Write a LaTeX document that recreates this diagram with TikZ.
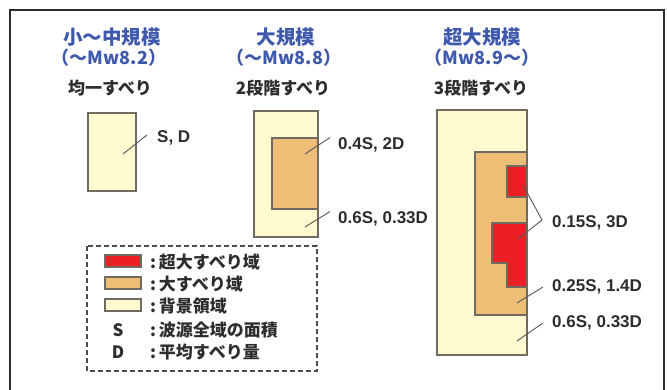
\documentclass[tikz,border=0pt]{standalone}
\usepackage{fontspec}
\setmainfont{Liberation Sans}
\newfontfamily\jpfont{Noto Sans CJK JP}
\usepackage{xcolor}
\usetikzlibrary{positioning}

\definecolor{bgyellow}{RGB}{255,250,208}
\definecolor{bigorange}{RGB}{238,190,118}
\definecolor{hugered}{RGB}{236,32,36}
\definecolor{titleblue}{RGB}{62,88,172}
\definecolor{edgegray}{RGB}{112,106,96}
\definecolor{inkgray}{RGB}{45,45,45}

\tikzset{
	zone/.style={draw=edgegray, line width=1.1pt},
	leader/.style={draw=inkgray!80, line width=0.9pt},
	title/.style={font=\jpfont\bfseries\fontsize{19.5}{21}\selectfont, text=titleblue, inner sep=0pt},
	magnitude/.style={font=\jpfont\bfseries\fontsize{18}{20}\selectfont, text=titleblue, inner sep=0pt},
	subtitle/.style={font=\jpfont\bfseries\fontsize{17}{19}\selectfont, text=inkgray, inner sep=0pt},
	value/.style={font=\bfseries\fontsize{17}{19}\selectfont, text=inkgray, inner sep=0pt, anchor=west},
	legtext/.style={font=\jpfont\bfseries\fontsize{17}{19}\selectfont, text=inkgray, inner sep=0pt, anchor=west},
	swatch/.style={zone, minimum width=36pt, minimum height=12pt, inner sep=0pt}
}

\begin{document}
\begin{tikzpicture}[x=1pt, y=-1pt]
		
		\useasboundingbox (0,0) rectangle (667,390);
		\draw[inkgray, line width=1.5pt] (10,392) -- (10,10) -- (664,10) -- (664,392);
		
		% column titles
		\node[title] (smallT) at (112,37) {小～中規模};
		\node[magnitude] (smallM) at (109,58) {（～Mw8.2）};
		\node[subtitle] (smallS) at (110,88) {均一すべり};
		
		\node[title] (largeT) at (286,37) {大規模};
		\node[magnitude] (largeM) at (284,58) {（～Mw8.8）};
		\node[subtitle] (largeS) at (283,88) {2段階すべり};
		
		\node[title] (hugeT) at (482,37) {超大規模};
		\node[magnitude] (hugeM) at (482,58) {（Mw8.9～）};
		\node[subtitle] (hugeS) at (481,88) {3段階すべり};
		
		% uniform slip
		\fill[bgyellow, zone] (88,113) rectangle (136,191);
		\coordinate (uniP) at (123,154);
		\node[value] (uniL) at (157,138) {S, D};
		\draw[leader] (uniP) -- ([shift={(-10pt,3pt)}]uniL.west);
		
		% two-step slip
		\fill[bgyellow, zone] (254,111) rectangle (318,237);
		\fill[bigorange, zone] (272,138) rectangle (318,209);
		\coordinate (twoBigP) at (305,154);
		\coordinate (twoBgP) at (305,227);
		\node[value] (twoBigL) at (338,145) {0.4S, 2D};
		\node[value] (twoBgL) at (338,219) {0.6S, 0.33D};
		\draw[leader] (twoBigP) -- ([xshift=-8pt]twoBigL.north west);
		\draw[leader] (twoBgP) -- ([xshift=-8pt]twoBgL.north west);
		
		% three-step slip
		\fill[bgyellow, zone] (437,110) rectangle (527,355);
		\fill[bigorange, zone] (475,152) rectangle (527,315);
		\fill[hugered, zone] (507,166) rectangle (527,197);
		\fill[hugered, zone] (492,223) -- (527,223) -- (527,287) -- (507,287) -- (507,263) -- (492,263) -- cycle;
		\coordinate (hugeTopP) at (523,185);
		\coordinate (hugeLowP) at (518,239);
		\coordinate (threeBigP) at (517,303);
		\coordinate (threeBgP) at (517,341);
		\node[value] (hugeL) at (552,223) {0.15S, 3D};
		\node[value] (threeBigL) at (552,287) {0.25S, 1.4D};
		\node[value] (threeBgL) at (552,323) {0.6S, 0.33D};
		\draw[leader] (hugeTopP) -- ([shift={(-10pt,3pt)}]hugeL.west) -- (hugeLowP);
		\draw[leader] (threeBigP) -- ([xshift=-9pt]threeBigL.west);
		\draw[leader] (threeBgP) -- ([xshift=-9pt]threeBgL.west);
		
		% legend
		\draw[inkgray!85, line width=1.1pt, dash pattern=on 5pt off 3pt] (87,246) rectangle (317,371);
		\node[swatch, fill=hugered] (legRed) at (123,261) {};
		\node[swatch, fill=bigorange] (legOrange) at (123,283) {};
		\node[swatch, fill=bgyellow] (legYellow) at (123,305) {};
		\node[legtext, anchor=center] (legS) at (118,330) {S};
		\node[legtext, anchor=center] (legD) at (118,352) {D};
		\node[legtext] (legRedT) at (150,262) {:\,超大すべり域};
		\node[legtext] (legOrangeT) at (150,284) {:\,大すべり域};
		\node[legtext] (legYellowT) at (150,306) {:\,背景領域};
		\node[legtext] (legST) at (150,330) {:\,波源全域の面積};
		\node[legtext] (legDT) at (150,352) {:\,平均すべり量};
		
	\end{tikzpicture}
\end{document}
